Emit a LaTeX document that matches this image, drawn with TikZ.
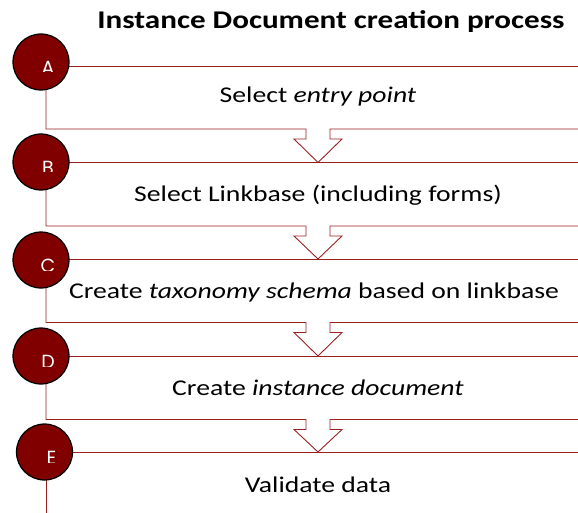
\documentclass[tikz,border=0pt]{standalone}
\usepackage{fontspec}
\setmainfont{Carlito}
\newfontfamily\stepfont{Carlito}[FakeStretch=1.23]
\newfontfamily\titlefont{Carlito}[FakeStretch=1.22]
\newfontfamily\letterfont{Poppins}
\usetikzlibrary{calc}
\definecolor{badgered}{RGB}{128,0,0}
\definecolor{flowred}{RGB}{155,32,32}
\tikzset{
  flow/.style={draw=flowred, line width=0.9pt},
  badge/.style={circle, draw=black, line width=1.2pt, fill=badgered,
    minimum size=56pt, inner sep=0pt},
  badgeletter/.style={anchor=north, inner sep=0pt, text=white,
    font=\letterfont\fontsize{19}{22}\selectfont},
  steptext/.style={anchor=base, inner sep=0pt,
    font=\stepfont\fontsize{22.5}{27}\selectfont},
  titletext/.style={anchor=base, inner sep=0pt,
    font=\titlefont\bfseries\fontsize{25.5}{30}\selectfont}
}
\begin{document}
\begin{tikzpicture}[x=1pt,y=-1pt]
\useasboundingbox (0,0) rectangle (578,513);

% title
\node[titletext] (title) at (331,29) {Instance Document creation process};

% step frames: top rule, left side, bottom rule with a down arrow notch
\foreach \t/\b/\nt in {66/129/162.5, 162.5/226/259, 259/322.5/356, 356/419.5/452} {
  \draw[flow] (41,\t) -- (578,\t);
  \draw[flow] (46,\t) -- (46,\b) -- (306,\b) -- (306,\b+10) -- (294,\b+10)
    -- (318,\nt) -- (342,\b+10) -- (330,\b+10) -- (330,\b) -- (578,\b);
}
% last step is open at the bottom
\draw[flow] (44,452) -- (578,452);
\draw[flow] (46,452) -- (46,513);

% step labels
\node[steptext] (tA) at (318,103) {Select \textit{entry point}};
\node[steptext] (tB) at (318,201) {Select Linkbase (including forms)};
\node[steptext] (tC) at (314,298) {Create \textit{taxonomy schema} based on linkbase};
\node[steptext] (tD) at (318,395) {Create \textit{instance document}};
\node[steptext] (tE) at (318,492) {Validate data};

% numbered badges, letters cut off below the middle
\foreach \n/\x/\y in {A/41/62, B/41/162, C/41/260, D/41/356, E/44.5/452} {
  \node[badge] (c\n) at (\x,\y) {};
  \begin{scope}
    \clip ($(c\n.center)+(-28,-30)$) rectangle ($(c\n.center)+(28,10)$);
    \node[badgeletter] (l\n) at ($(c\n.center)+(7,-1)$) {\n};
  \end{scope}
}
\end{tikzpicture}
\end{document}
